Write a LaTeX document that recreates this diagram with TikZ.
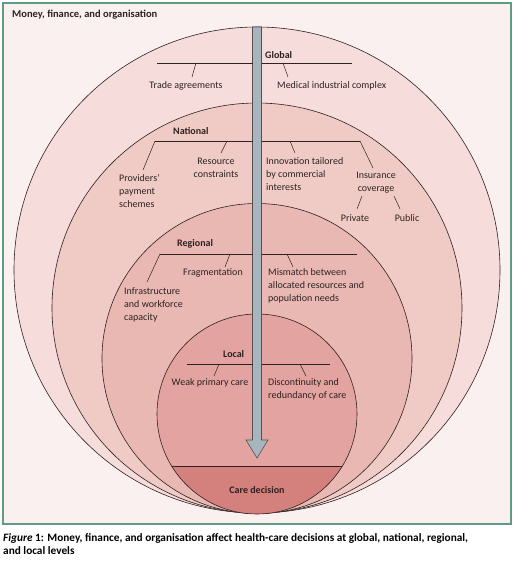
\documentclass[tikz,border=0pt]{standalone}
\usepackage{fontspec}
\setmainfont{Carlito}
\definecolor{bgc}{HTML}{FAF0EF}
\definecolor{outerc}{HTML}{F6DCDA}
\definecolor{natc}{HTML}{F0CBC6}
\definecolor{regc}{HTML}{E9B8B3}
\definecolor{locc}{HTML}{E3A3A0}
\definecolor{carec}{HTML}{D4807C}
\definecolor{framec}{HTML}{5E9C84}
\definecolor{arrowc}{HTML}{A7B6BE}
\definecolor{inkc}{HTML}{2E2222}
\begin{document}
\begin{tikzpicture}[x=1pt,y=-1pt,
  lbl/.style={font=\fontsize{10}{13}\selectfont, text=inkc, inner sep=0pt, align=left},
  lblc/.style={lbl, align=center},
  head/.style={lbl, font=\fontsize{10}{13}\selectfont\bfseries},
  ring/.style={draw=inkc, line width=0.6pt},
  bar/.style={draw=inkc, line width=0.6pt},
  tick/.style={draw=inkc, line width=0.5pt}]
\useasboundingbox (0,0) rectangle (520,566);
\fill[white] (0,0) rectangle (520,566);
\draw[framec, fill=bgc, line width=1.2pt] (3,3) rectangle (511,524);
\node[head, anchor=west, font=\fontsize{10.5}{13}\selectfont\bfseries] (title) at (12,15) {Money, finance, and organisation};
% circles
\draw[ring, fill=outerc] (257,270) circle (243pt);
\draw[ring, fill=natc] (257,308) circle (205pt);
\draw[ring, fill=regc] (257,358.5) circle (155pt);
\fill[locc] (257,414) circle (100pt);
\begin{scope}
  \clip (257,414) circle (100pt);
  \fill[carec] (150,466) rectangle (360,520);
\end{scope}
\draw[ring] (257,414) circle (100pt);
\coordinate (cl) at (171.6,466);
\coordinate (cr) at (342.4,466);
\draw[ring] (cl) -- (cr);
\node[head, anchor=center] (care) at (257,490) {Care decision};
% arrow
\draw[draw=inkc!80, fill=arrowc, line width=0.6pt]
  (252.5,27) -- (261.5,27) -- (261.5,440) -- (268,440) -- (257,458) -- (246,440) -- (252.5,440) -- cycle;
% Global
\node[head, anchor=west] (global) at (265,55) {Global};
\coordinate (g1) at (157,63); \coordinate (g2) at (252.5,63);
\coordinate (g3) at (261.5,63); \coordinate (g4) at (352,63);
\draw[bar] (g1) -- (g2); \draw[bar] (g3) -- (g4);
\node[lblc] (trade) at (186,86) {Trade agreements};
\node[lbl, anchor=west] (med) at (277,86) {Medical industrial complex};
\draw[tick] (196,63) -- (192,77);
\draw[tick] (283,63) -- (288,77);
% National
\node[head, anchor=west] (national) at (173,131) {National};
\draw[bar] (155,141) -- (252.5,141); \draw[bar] (261.5,141) -- (360,141);
\node[lbl, anchor=west] (prov) at (119,191) {Providers'\\payment\\schemes};
\node[lblc] (res) at (216,168) {Resource\\constraints};
\node[lbl, anchor=west] (innov) at (266,174.5) {Innovation tailored\\by commercial\\interests};
\node[lblc] (ins) at (376,182.5) {Insurance\\coverage};
\node[lblc] (priv) at (355,218) {Private};
\node[lblc] (pub) at (407,218) {Public};
\draw[tick] (155,141) -- (143,170);
\draw[tick] (227,141) -- (221,153);
\draw[tick] (290,141) -- (295,153);
\draw[tick] (360,141) -- (373,168);
\draw[tick] (362,196) -- (357,209);
\draw[tick] (394,196) -- (400,209);
% Regional
\node[head, anchor=west] (regional) at (177,244) {Regional};
\draw[bar] (160,254) -- (252.5,254); \draw[bar] (261.5,254) -- (357,254);
\node[lblc] (frag) at (213,273) {Fragmentation};
\node[lbl, anchor=west] (mism) at (268,286) {Mismatch between\\allocated resources and\\population needs};
\node[lbl, anchor=west] (infra) at (124,305) {Infrastructure\\and workforce\\capacity};
\draw[tick] (160,254) -- (147,282);
\draw[tick] (230,254) -- (225,267);
\draw[tick] (287,254) -- (293,267);
% Local
\node[head, anchor=west] (local) at (223,354) {Local};
\draw[bar] (187,364) -- (252.5,364); \draw[bar] (261.5,364) -- (330,364);
\node[lblc] (weak) at (210,383) {Weak primary care};
\node[lbl, anchor=west] (disc) at (268,389.5) {Discontinuity and\\redundancy of care};
\draw[tick] (219,364) -- (214,376);
\draw[tick] (300,364) -- (306,376);
% caption
\node[lbl, anchor=north west, font=\fontsize{11.3}{13.5}\selectfont\bfseries, text=black] (cap) at (3,533)
  {\textit{Figure} 1: Money, finance, and organisation affect health-care decisions at global, national, regional,\\and local levels};
\end{tikzpicture}
\end{document}
